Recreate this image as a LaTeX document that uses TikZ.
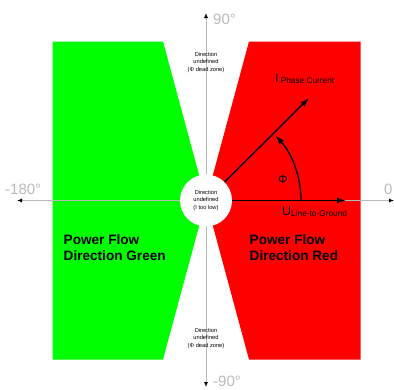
\documentclass[tikz,border=0pt]{standalone}
\usepackage{fontspec}
\setmainfont{Liberation Sans}
\usepackage{xcolor}
\usetikzlibrary{positioning, arrows.meta}

\definecolor{axisgray}{RGB}{185,185,185}

\begin{document}
\begin{tikzpicture}[x=1pt, y=-1pt,
  axis/.style={axisgray, line width=0.9pt, -{Latex[length=5pt, width=4pt, color=black]}},
  vec/.style={black, line width=1.4pt, -{Latex[length=9pt, width=6pt]}},
  deg/.style={axisgray, font=\fontsize{15}{15}\selectfont, inner sep=0pt},
  small/.style={align=center, font=\fontsize{5.7}{7.3}\selectfont, inner sep=0pt},
  zone/.style={anchor=base west, align=left, inner sep=0pt, font=\fontsize{13.6}{16}\selectfont\bfseries}]

\useasboundingbox (0,0) rectangle (394,389);

% Regions
\fill[green] (52.5,41.5) -- (163,41.5) -- (206,200.5) -- (163,359.5) -- (52.5,359.5) -- cycle;
\fill[red] (249,41.5) -- (360.5,41.5) -- (360.5,359.5) -- (249,359.5) -- (206,200.5) -- cycle;

% Axes
\coordinate (o) at (206,200.5);
\coordinate (east) at (394,200.5);
\coordinate (west) at (17,200.5);
\coordinate (north) at (206,13);
\coordinate (south) at (206,387);
\draw[axis] (o) -- (east);
\draw[axis] (o) -- (west);
\draw[axis] (o) -- (north);
\draw[axis] (o) -- (south);

\node[deg, anchor=west] (n90) at (213,19) {90°};
\node[deg, anchor=west] (s90) at (213,381) {-90°};
\node[deg, anchor=west] (w180) at (5,189) {-180°};
\node[deg, anchor=west] (e0) at (384,189) {0};

% Dead zones
\node[circle, fill=white, minimum size=52pt, small] (center) at (o) {Direction\\undefined\\(I too low)};
\node[small] (topzone) at (206,62.5) {Direction\\undefined\\(Φ dead zone)};
\node[small] (botzone) at (206,338.5) {Direction\\undefined\\(Φ dead zone)};

% Vectors
\coordinate (utip) at (346,200.5);
\coordinate (itip) at (309,98);
\coordinate (phistart) at (301,200.5);
\draw[vec] (center) -- (utip);
\draw[vec] (center) -- (itip);
\draw[vec] (phistart) arc[start angle=0, end angle=-43, radius=95];

\node[anchor=base west, inner sep=0pt] (ilabel) at (275,82) {\fontsize{12.5}{14}\selectfont I\,\raisebox{-1.3pt}{\fontsize{8.3}{10}\selectfont Phase Current}};
\node[anchor=base west, inner sep=0pt] (ulabel) at (282,215.5) {\fontsize{12.5}{14}\selectfont U\raisebox{-1pt}{\fontsize{8.3}{10}\selectfont Line-to-Ground}};
\node[inner sep=0pt, font=\fontsize{12}{12}\selectfont] (phi) at (283,179) {Φ};

% Power flow texts
\node[zone] (greenzone) at (63.5,260.5) {Power Flow\\Direction Green};
\node[zone] (redzone) at (249.5,260.5) {Power Flow\\Direction Red};

\end{tikzpicture}
\end{document}
